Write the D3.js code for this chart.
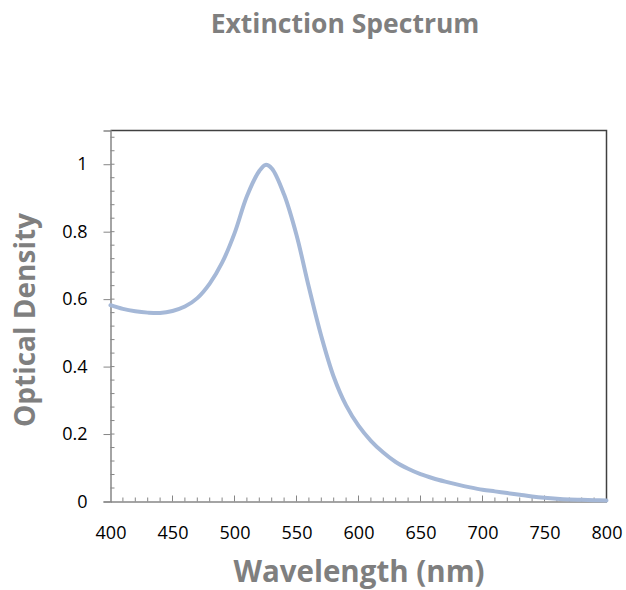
<!DOCTYPE html>
<html lang="en">
<head>
    <meta charset="utf-8">
    <title>Extinction Spectrum</title>
    <script src="https://d3js.org/d3.v7.min.js"></script>
    <style>
        body { margin: 0; background: #fff; }
        text { font-family: "Open Sans", "Liberation Sans", sans-serif; }
    </style>
</head>

<body>
    <script type="text/javascript">
        // wavelength (nm) and optical density
        var wavelength = [400, 410, 420, 430, 440, 450, 460, 470, 480, 490,
                          500, 510, 520, 525, 530, 540, 550, 560, 570, 580,
                          590, 600, 610, 620, 630, 640, 650, 660, 670, 680,
                          690, 700, 710, 720, 730, 740, 750, 760, 770, 780,
                          790, 800];
        var density = [0.582, 0.571, 0.564, 0.560, 0.559, 0.565, 0.578, 0.603, 0.646, 0.708,
                       0.795, 0.905, 0.980, 0.998, 0.988, 0.910, 0.790, 0.635, 0.490, 0.370,
                       0.285, 0.225, 0.180, 0.145, 0.117, 0.097, 0.081, 0.069, 0.059, 0.050,
                       0.042, 0.035, 0.030, 0.025, 0.020, 0.015, 0.011, 0.008, 0.006, 0.005,
                       0.004, 0.003];
        var xTicks = [400, 450, 500, 550, 600, 650, 700, 750, 800];
        var yTicks = [0, 0.2, 0.4, 0.6, 0.8, 1];

        var w = 626;
        var h = 590;
        var margin = {top: 130.5, right: 19.5, bottom: 88.5, left: 110.5};
        var pw = w - margin.left - margin.right;
        var ph = h - margin.top - margin.bottom;

        var svg = d3.select("body")
                    .append("svg")
                    .attr("width", w)
                    .attr("height", h);

        var x = d3.scaleLinear().domain([400, 800]).range([0, pw]);
        var y = d3.scaleLinear().domain([0, 1.1]).range([ph, 0]);

        var g = svg.append("g")
                   .attr("transform", "translate(" + margin.left + "," + margin.top + ")");

        // top and right frame
        g.append("path")
         .attr("d", "M0,0H" + pw + "V" + ph)
         .attr("fill", "none")
         .attr("stroke", "#404040")
         .attr("stroke-width", 1.5);

        // minor ticks (inside)
        var yMinor = d3.range(0, 1.1, 0.04).filter(function(v) { return v > 0; });
        g.selectAll("line.ym")
         .data(yMinor)
         .enter()
         .append("line")
         .attr("x1", 0).attr("x2", 4)
         .attr("y1", function(d) { return y(d); })
         .attr("y2", function(d) { return y(d); })
         .attr("stroke", "#868686");

        var xMinor = d3.range(410, 800, 10);
        g.selectAll("line.xm")
         .data(xMinor)
         .enter()
         .append("line")
         .attr("x1", function(d) { return x(d); })
         .attr("x2", function(d) { return x(d); })
         .attr("y1", ph)
         .attr("y2", function(d) { return d % 50 === 0 ? ph - 6 : ph - 4; })
         .attr("stroke", "#868686");

        // y axis
        var yAxis = g.append("g")
                     .call(d3.axisLeft(y).tickValues(yTicks).tickSize(7).tickPadding(16)
                             .tickFormat(function(d) { return d === 0 || d === 1 ? d : d3.format(".1f")(d); }));
        yAxis.select(".domain").attr("stroke", "#868686").attr("stroke-width", 1.5);
        yAxis.selectAll(".tick line").attr("stroke", "#868686");
        yAxis.selectAll("text").attr("font-size", 18).attr("fill", "#000")
             .style("font-family", "'Open Sans', sans-serif");

        // x axis
        var xAxis = g.append("g")
                     .attr("transform", "translate(0," + ph + ")")
                     .call(d3.axisBottom(x).tickValues(xTicks).tickSize(0).tickPadding(25));
        xAxis.select(".domain").attr("stroke", "#868686").attr("stroke-width", 1.5);
        xAxis.selectAll("text").attr("font-size", 18).attr("fill", "#000")
             .style("font-family", "'Open Sans', sans-serif");

        // spectrum
        var line = d3.line()
                     .x(function(d, i) { return x(wavelength[i]); })
                     .y(function(d) { return y(d); })
                     .curve(d3.curveCatmullRom);

        g.append("path")
         .datum(density)
         .attr("d", line)
         .attr("fill", "none")
         .attr("stroke", "#a5b8d7")
         .attr("stroke-width", 4)
         .attr("stroke-linecap", "round");

        // titles
        svg.append("text")
           .attr("x", 345).attr("y", 33)
           .attr("text-anchor", "middle")
           .attr("font-size", 26.5)
           .attr("font-weight", "bold")
           .attr("fill", "#7f7f7f")
           .text("Extinction Spectrum");

        svg.append("text")
           .attr("x", 359).attr("y", 582)
           .attr("text-anchor", "middle")
           .attr("font-size", 29.5)
           .attr("font-weight", "bold")
           .attr("fill", "#7f7f7f")
           .text("Wavelength (nm)");

        svg.append("text")
           .attr("transform", "translate(35,320) rotate(-90)")
           .attr("text-anchor", "middle")
           .attr("font-size", 28)
           .attr("font-weight", "bold")
           .attr("fill", "#7f7f7f")
           .text("Optical Density");
    </script>
</body>
</html>
